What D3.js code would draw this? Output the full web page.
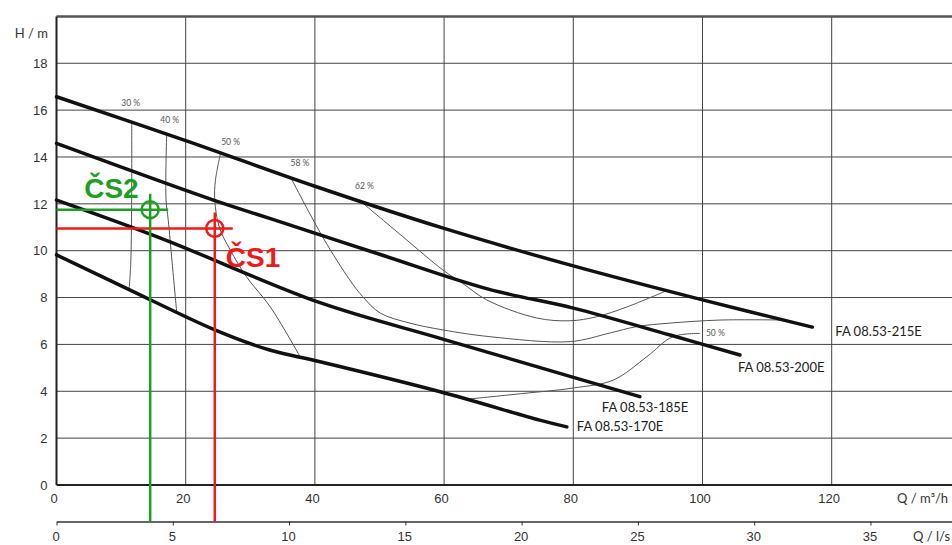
<!DOCTYPE html>
<html lang="cs">
<head>
<meta charset="utf-8">
<script src="https://d3js.org/d3.v7.min.js"></script>
<style>
body { margin: 0; background: #fff; }
svg { display: block; font-family: Lato, "Liberation Sans", Arial, sans-serif; }
.grid line { stroke: #444; stroke-width: 1; }
.axis text { fill: #333; font-size: 13px; }
.axis path, .axis line { stroke: #333; }
.pump { fill: none; stroke: #111; stroke-width: 3.5; stroke-linecap: round; }
.eff { fill: none; stroke: #555; stroke-width: 1; }
.effLabel { fill: #555; font-size: 8.5px; }
.pumpLabel { fill: #222; font-size: 13px; }
.duty { font-family: "Liberation Sans", Arial, sans-serif; font-weight: bold; font-size: 28px; }
</style>
</head>
<body>
<script>

// ---- data (Q in m3/h, H in m) ----
const qTicks = [0, 20, 40, 60, 80, 100, 120];
const hTicks = [0, 2, 4, 6, 8, 10, 12, 14, 16, 18];
const lsTicks = [0, 5, 10, 15, 20, 25, 30, 35];

const pumpNames = ["FA 08.53-215E", "FA 08.53-200E", "FA 08.53-185E", "FA 08.53-170E"];
const pump215 = [[0, 16.57], [20, 14.7], [40, 12.75], [60, 10.95], [80, 9.35], [100, 7.9], [117, 6.74]];
const pump200 = [[0, 14.58], [24.3, 12.16], [33, 11.38], [50, 9.85], [67, 8.35], [80, 7.55], [95, 6.4], [105.8, 5.55]];
const pump185 = [[0, 12.16], [16, 10.55], [40.8, 7.78], [59.4, 6.26], [75, 5.0], [90.3, 3.77]];
const pump170 = [[0, 9.82], [11.4, 8.32], [24.5, 6.62], [33, 5.76], [40.8, 5.26], [59.4, 3.98], [74.8, 2.77], [79, 2.48]];
const pumps = [pump215, pump200, pump185, pump170];

// efficiency iso-lines
const effNames = ["30 %", "40 %", "50 %", "58 %", "62 %", "50 %"];
const eff30 = [[11.65, 15.5], [11.65, 13], [11.6, 11], [11.5, 9.5], [11.25, 8.35]];
const eff40 = [[17.05, 14.95], [16.95, 12.2], [17.3, 11.3], [17.9, 9.5], [18.6, 7.4]];
const eff50a = [[25.4, 14.17], [24.6, 13], [24.5, 12.16], [25.2, 11], [26.9, 10.03], [29.4, 8.89], [33.1, 7.6], [37.7, 5.48]];
const eff58 = [[36.3, 13.1], [41.3, 10.54], [45.4, 8.75], [47.4, 8.04], [50.1, 7.34], [54.7, 6.91], [59.8, 6.62], [67.1, 6.33],
  [79.5, 6.12], [85.7, 6.49], [89.8, 6.76], [95, 6.91], [102.7, 7.04], [113, 7.04]];
const eff62 = [[47.2, 12.08], [53.6, 10.6], [59.8, 9.18], [62.9, 8.6], [66.6, 7.9], [74.3, 7.13], [79.5, 7.01], [83.6, 7.18],
  [88.3, 7.6], [94.5, 8.3]];
const eff50b = [[63.5, 3.66], [72, 3.9], [80, 4.14], [86.2, 4.48], [91.4, 5.48], [95.4, 6.33], [99.6, 6.47]];
const effs = [eff30, eff40, eff50a, eff58, eff62, eff50b];

// duty points
const dutyNames = ["ČS1", "ČS2"];
const dutyQ = [24.5, 14.5];
const dutyH = [10.95, 11.75];

// ---- layout ----
const width = 952, height = 545;
const lsAxisY = 521.5;
const pumpLabelOffsets = [[23, 9], [-2, 17], [-38, 15], [10, 4.5]];
const effLabelOffsets = [[-1, -16], [3, -12], [10, -8], [9, -12], [3, -13], [6, 3]];
const dutyColors = ["#f01a1a", "#1f9e26"];
const dutyLabelOffsets = [[11, 39], [-66, -12]];

const x = d3.scaleLinear().domain([0, 140]).range([56.5, 960.9]);
const y = d3.scaleLinear().domain([0, 20]).range([485, 16.4]);
const xls = d3.scaleLinear().domain([0, 140 / 3.6]).range([56.5, 960.9]);

const svg = d3.select("body").append("svg")
  .attr("width", width)
  .attr("height", height);

// grid
const grid = svg.append("g").attr("class", "grid");
grid.selectAll("line.v")
  .data(d3.range(20, 141, 20))
  .enter().append("line")
  .attr("x1", d => x(d)).attr("x2", d => x(d))
  .attr("y1", y(0)).attr("y2", y(20));
grid.selectAll("line.h")
  .data(d3.range(2, 19, 2))
  .enter().append("line")
  .attr("x1", x(0)).attr("x2", x(140))
  .attr("y1", d => y(d)).attr("y2", d => y(d));

// frame
svg.append("line").attr("x1", x(0)).attr("x2", x(140)).attr("y1", y(20)).attr("y2", y(20))
  .attr("stroke", "#555").attr("stroke-width", 2.5);
svg.append("line").attr("x1", x(0)).attr("x2", x(0)).attr("y1", y(20)).attr("y2", y(0))
  .attr("stroke", "#222").attr("stroke-width", 2);
svg.append("line").attr("x1", x(0)).attr("x2", x(140)).attr("y1", y(0)).attr("y2", y(0))
  .attr("stroke", "#222").attr("stroke-width", 2);

// axes
const yAxis = svg.append("g").attr("class", "axis")
  .attr("transform", `translate(${x(0)},0)`)
  .call(d3.axisLeft(y).tickValues(hTicks).tickSize(0).tickPadding(9));
yAxis.select(".domain").remove();

const xAxis = svg.append("g").attr("class", "axis")
  .attr("transform", `translate(0,${y(0)})`)
  .call(d3.axisBottom(x).tickValues(qTicks).tickSize(0).tickPadding(8.5));
xAxis.select(".domain").remove();
xAxis.selectAll("text").attr("dx", -3);

const lsAxis = svg.append("g").attr("class", "axis")
  .attr("transform", `translate(0,${lsAxisY})`)
  .call(d3.axisBottom(xls).tickValues(lsTicks).tickSizeInner(4).tickSizeOuter(0).tickPadding(6));
lsAxis.select(".domain").attr("stroke-width", 1.5);
lsAxis.selectAll("text").attr("dx", -1);

svg.append("text").attr("x", 48).attr("y", 38)
  .attr("text-anchor", "end").attr("fill", "#333").attr("font-size", 13).text("H / m");
svg.append("text").attr("x", 897).attr("y", 502.5)
  .attr("fill", "#333").attr("font-size", 13).text("Q / m³/h");
svg.append("text").attr("x", 913).attr("y", 540.5)
  .attr("fill", "#333").attr("font-size", 13).text("Q / l/s");

// curves
const line = d3.line()
  .x(d => x(d[0]))
  .y(d => y(d[1]))
  .curve(d3.curveCatmullRom.alpha(0.5));

svg.selectAll("path.eff")
  .data(effs)
  .enter().append("path")
  .attr("class", "eff")
  .attr("d", line);

svg.selectAll("text.effLabel")
  .data(effs)
  .enter().append("text")
  .attr("class", "effLabel")
  .attr("text-anchor", (d, i) => i === 5 ? "start" : "middle")
  .attr("x", (d, i) => {
    const p = i === 5 ? d[d.length - 1] : d[0];
    return x(p[0]) + effLabelOffsets[i][0];
  })
  .attr("y", (d, i) => {
    const p = i === 5 ? d[d.length - 1] : d[0];
    return y(p[1]) + effLabelOffsets[i][1];
  })
  .text((d, i) => effNames[i]);

svg.selectAll("path.pump")
  .data(pumps)
  .enter().append("path")
  .attr("class", "pump")
  .attr("d", line);

svg.selectAll("text.pumpLabel")
  .data(pumps)
  .enter().append("text")
  .attr("class", "pumpLabel")
  .attr("x", (d, i) => x(d[d.length - 1][0]) + pumpLabelOffsets[i][0])
  .attr("y", (d, i) => y(d[d.length - 1][1]) + pumpLabelOffsets[i][1])
  .text((d, i) => pumpNames[i]);

// duty points
dutyNames.forEach((name, i) => {
  const cx = x(dutyQ[i]), cy = y(dutyH[i]);
  const g = svg.append("g").attr("stroke", dutyColors[i]).attr("stroke-width", 2.5).attr("fill", "none");
  g.append("line").attr("x1", x(0)).attr("x2", cx + 18).attr("y1", cy).attr("y2", cy);
  g.append("line").attr("x1", cx).attr("x2", cx).attr("y1", cy - 16).attr("y2", lsAxisY);
  g.append("circle").attr("cx", cx).attr("cy", cy).attr("r", 8.5);
  svg.append("text").attr("class", "duty")
    .attr("x", cx + dutyLabelOffsets[i][0])
    .attr("y", cy + dutyLabelOffsets[i][1])
    .attr("fill", dutyColors[i])
    .text(name);
});

</script>
</body>
</html>
